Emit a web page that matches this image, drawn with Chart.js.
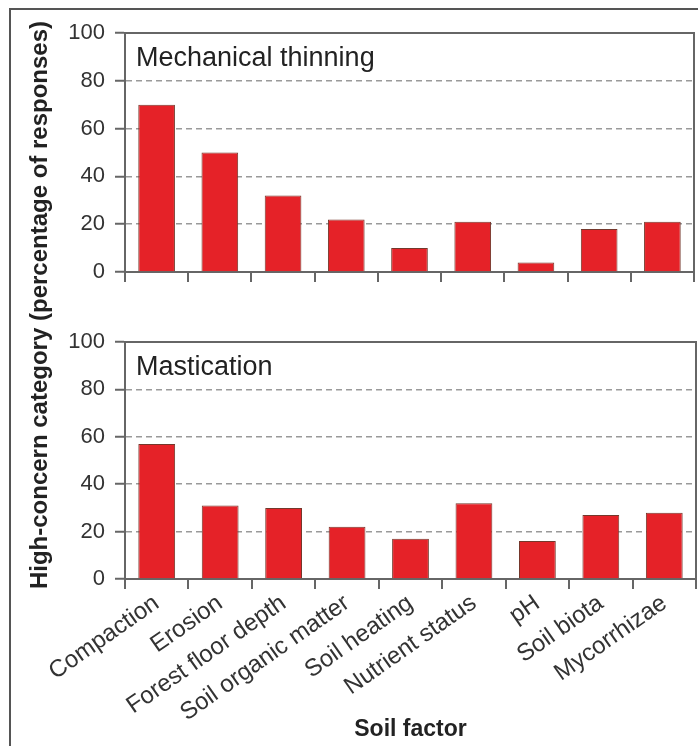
<!DOCTYPE html>
<html>
<head>
<meta charset="utf-8">
<script src="https://cdn.jsdelivr.net/npm/chart.js@4.4.1/dist/chart.umd.min.js"></script>
<style>
  body { margin: 0; background: #fff; width: 698px; height: 746px; overflow: hidden; position: relative; }
  #frame { position: absolute; left: 9px; top: 8px; width: 720px; height: 760px; border-left: 2px solid #555; border-top: 2px solid #555; }
  canvas { position: absolute; left: 0; }
  #top { top: 0; }
  #bottom { top: 300px; }
  #ytitle { position: absolute; left: -260px; top: 290px; width: 600px; height: 30px; line-height: 30px; text-align: center;
    transform: rotate(-90deg); font: bold 24px "Liberation Sans", Arial, sans-serif; color: #222; white-space: nowrap; }
</style>
</head>
<body>
<div id="frame"></div>
<canvas id="top" width="698" height="300"></canvas>
<canvas id="bottom" width="698" height="446"></canvas>
<div id="ytitle">High-concern category (percentage of responses)</div>
<script>
// data
var factors = ['Compaction', 'Erosion', 'Forest floor depth', 'Soil organic matter', 'Soil heating',
               'Nutrient status', 'pH', 'Soil biota', 'Mycorrhizae'];
var thinningPct = [70, 50, 32, 22, 10, 21, 4, 18, 21];
var masticationPct = [57, 31, 30, 22, 17, 32, 16, 27, 28];
var yTicks = [0, 20, 40, 60, 80, 100];
var panelNames = ['Mechanical thinning', 'Mastication'];
var xTitle = 'Soil factor';

var FONT = '"Liberation Sans", Arial, sans-serif';
var AXIS = '#666';

// box on top/right of the plot and the panel name
var panelBox = {
  id: 'panelBox',
  afterDraw: function(chart, args, opts) {
    var ctx = chart.ctx, a = chart.chartArea;
    ctx.save();
    ctx.strokeStyle = AXIS;
    ctx.lineWidth = 2;
    ctx.beginPath();
    ctx.moveTo(a.left, a.top);
    ctx.lineTo(a.right, a.top);
    ctx.lineTo(a.right, a.bottom);
    ctx.stroke();
    ctx.fillStyle = '#222';
    ctx.font = '27px ' + FONT;
    ctx.textBaseline = 'alphabetic';
    ctx.fillText(opts.label, a.left + 11, a.top + 33);
    ctx.restore();
  }
};

function makePanel(id, label, values, bottomAxis, pad, xHeight) {
  return new Chart(document.getElementById(id), {
    type: 'bar',
    data: {
      labels: factors,
      datasets: [{
        data: values,
        backgroundColor: '#e52228',
        borderColor: '#74382c',
        borderWidth: 1,
        barPercentage: 1,
        categoryPercentage: 0.58
      }]
    },
    options: {
      responsive: false,
      animation: false,
      layout: { padding: pad },
      plugins: {
        legend: { display: false },
        tooltip: { enabled: false },
        panelBox: { label: label }
      },
      scales: {
        x: {
          afterFit: function(s) { s.height = xHeight; },
          grid: { offset: true, drawOnChartArea: false, color: AXIS, lineWidth: 2, tickLength: 10 },
          border: { color: AXIS, width: 2 },
          ticks: {
            display: bottomAxis,
            color: '#333',
            font: { family: FONT, size: 24 },
            minRotation: 35,
            maxRotation: 35,
            padding: 0
          },
          title: {
            display: bottomAxis,
            text: xTitle,
            color: '#222',
            font: { family: FONT, size: 23, weight: 'bold' },
            padding: { top: 0, bottom: 3 }
          }
        },
        y: {
          min: 0,
          max: 100,
          afterFit: function(s) { s.width = 125; },
          afterBuildTicks: function(s) { s.ticks = yTicks.map(function(v) { return { value: v }; }); },
          grid: { color: '#9a9a9a', lineWidth: 1.5, tickColor: AXIS, tickWidth: 2, tickLength: 10 },
          border: { color: AXIS, width: 2, dash: [6, 4] },
          ticks: { color: '#333', padding: 10, font: { family: FONT, size: 22 } }
        }
      }
    },
    plugins: [panelBox]
  });
}

makePanel('top', panelNames[0], thinningPct, false, { top: 33, right: 4, left: 0, bottom: 0 }, 28);
makePanel('bottom', panelNames[1], masticationPct, true, { top: 42, right: 2, left: 0, bottom: 0 }, 167);
</script>
</body>
</html>
